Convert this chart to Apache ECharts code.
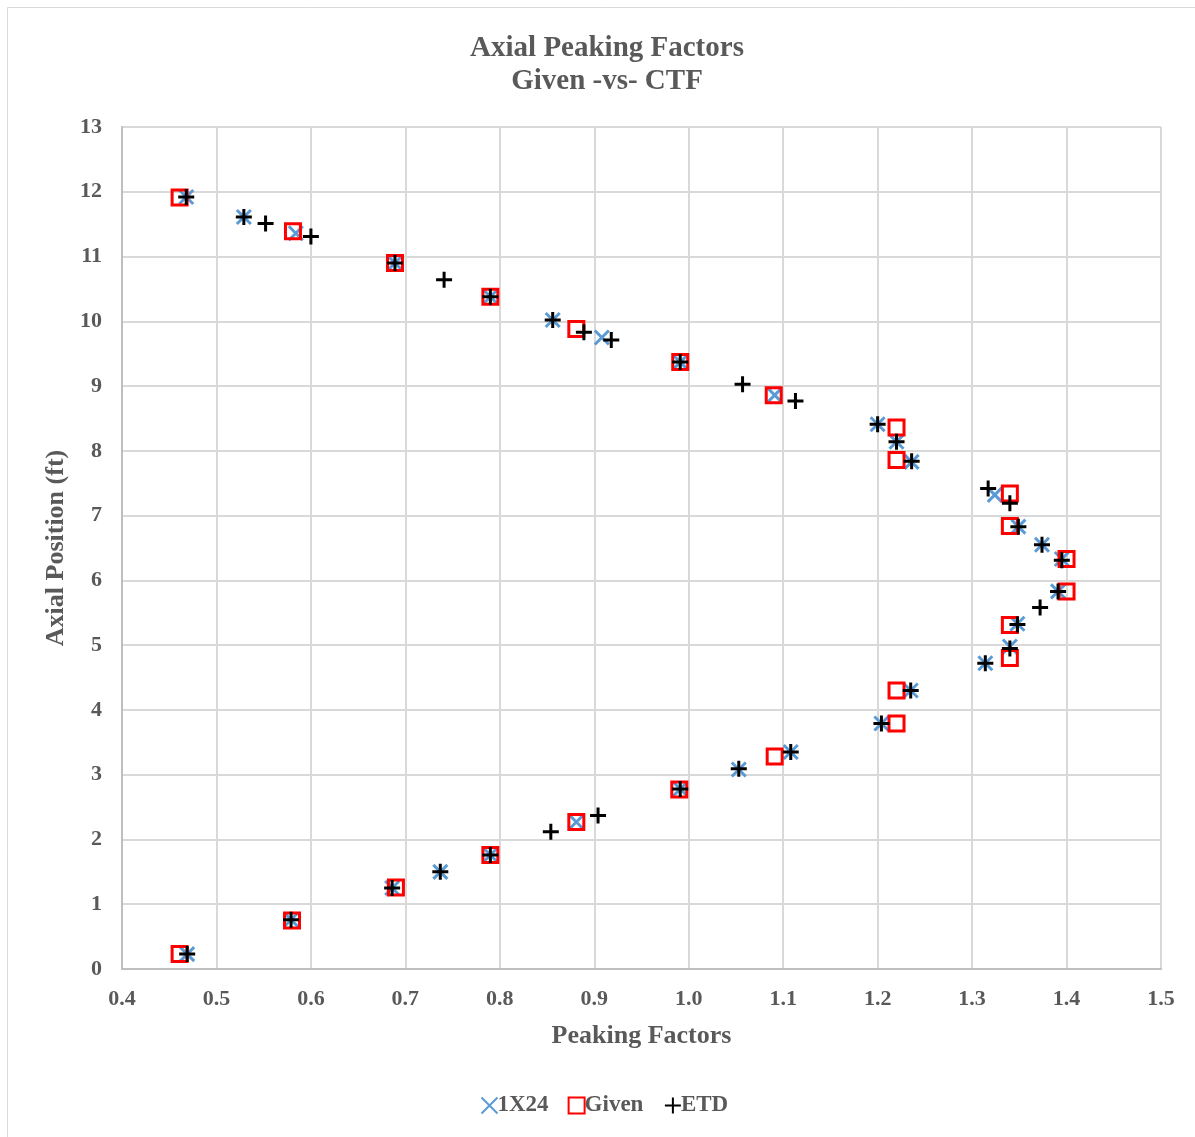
<!DOCTYPE html>
<html>
<head>
<meta charset="utf-8">
<title>Axial Peaking Factors</title>
<script src="https://cdn.jsdelivr.net/npm/echarts@6/dist/echarts.min.js"></script>
<style>
  html, body { margin: 0; padding: 0; background: #ffffff; }
  #chart { width: 1195px; height: 1137px; }
</style>
</head>
<body>
<div id="chart"></div>
<script>
// Peaking factor (x) vs axial position in ft (y) for each data set
const oneX24X = [0.468, 0.529, 0.584, 0.689, 0.790, 0.856, 0.908, 0.991, 1.091, 1.200, 1.220, 1.236,
                 1.324, 1.349, 1.374, 1.395, 1.391, 1.348, 1.340, 1.314, 1.235, 1.204, 1.108, 1.053,
                 0.991, 0.881, 0.790, 0.737, 0.686, 0.579, 0.469];
const oneX24Y = [11.92, 11.61, 11.36, 10.90, 10.38, 10.02, 9.75, 9.37, 8.86, 8.41, 8.14, 7.83,
                 7.32, 6.83, 6.55, 6.33, 5.83, 5.33, 4.98, 4.72, 4.30, 3.79, 3.35, 3.08,
                 2.78, 2.27, 1.76, 1.50, 1.25, 0.76, 0.23];

const givenX = [0.461, 0.581, 0.689, 0.790, 0.881, 0.991, 1.090, 1.220, 1.220, 1.340, 1.340, 1.400,
                1.400, 1.340, 1.340, 1.220, 1.220, 1.091, 0.990, 0.881, 0.790, 0.690, 0.580, 0.461];
const givenY = [11.91, 11.39, 10.90, 10.38, 9.88, 9.37, 8.86, 8.36, 7.86, 7.34, 6.84, 6.33,
                5.83, 5.31, 4.80, 4.30, 3.79, 3.28, 2.77, 2.27, 1.76, 1.26, 0.75, 0.23];

const etdX = [0.468, 0.529, 0.552, 0.600, 0.689, 0.741, 0.790, 0.856, 0.889, 0.918, 0.991, 1.057,
              1.113, 1.200, 1.220, 1.236, 1.317, 1.340, 1.349, 1.374, 1.395, 1.391, 1.372, 1.348,
              1.340, 1.314, 1.235, 1.204, 1.108, 1.053, 0.991, 0.904, 0.854, 0.790, 0.737, 0.686,
              0.579, 0.469];
const etdY = [11.92, 11.61, 11.51, 11.31, 10.90, 10.64, 10.38, 10.02, 9.83, 9.71, 9.37, 9.03,
              8.77, 8.41, 8.14, 7.84, 7.42, 7.19, 6.83, 6.55, 6.31, 5.83, 5.58, 5.32,
              4.95, 4.72, 4.30, 3.79, 3.35, 3.09, 2.78, 2.37, 2.12, 1.76, 1.50, 1.25,
              0.76, 0.23];

const seriesNames = ['1X24', 'Given', 'ETD'];
const titleLines = ['Axial Peaking Factors', 'Given -vs- CTF'];
const xAxisName = 'Peaking Factors';
const yAxisName = 'Axial Position (ft)';

const pairs = (xs, ys) => xs.map((x, i) => [x, ys[i]]);

const SERIF = '"Liberation Serif", "Times New Roman", serif';
const TEXT_GREY = '#595959';
const CROSS = 'path://M0,0L10,10M10,0L0,10';
const PLUS = 'path://M5,0L5,10M0,5L10,5';

const chart = echarts.init(document.getElementById('chart'), null, { renderer: 'canvas' });

chart.setOption({
  backgroundColor: '#ffffff',
  animation: false,
  graphic: [{
    type: 'rect',
    shape: { x: 7.5, y: 7.5, width: 1200, height: 1200 },
    style: { fill: 'none', stroke: '#d9d9d9', lineWidth: 1 },
    silent: true
  }],
  title: {
    text: titleLines.join('\n'),
    left: 602,
    textAlign: 'center',
    top: 27,
    textStyle: {
      fontFamily: SERIF,
      fontWeight: 'bold',
      fontSize: 29,
      color: TEXT_GREY,
      lineHeight: 33
    }
  },
  legend: {
    bottom: 15,
    left: 474,
    itemGap: 19,
    itemWidth: 16,
    itemHeight: 16,
    textStyle: {
      fontFamily: SERIF,
      fontWeight: 'bold',
      fontSize: 23,
      color: TEXT_GREY,
      padding: [0, 0, 0, -5]
    },
    data: seriesNames
  },
  grid: {
    left: 122,
    right: 34,
    top: 127,
    bottom: 168,
    containLabel: false
  },
  xAxis: {
    type: 'value',
    min: 0.4,
    max: 1.5,
    interval: 0.1,
    name: xAxisName,
    nameLocation: 'middle',
    nameGap: 54,
    nameTextStyle: { fontFamily: SERIF, fontWeight: 'bold', fontSize: 26, color: TEXT_GREY },
    axisLine: { show: true, lineStyle: { color: '#bfbfbf', width: 2 } },
    axisTick: { show: false },
    axisLabel: {
      fontFamily: SERIF, fontWeight: 'bold', fontSize: 22, color: TEXT_GREY, margin: 19,
      formatter: v => v.toFixed(1)
    },
    splitLine: { show: true, lineStyle: { color: '#d9d9d9', width: 2 } }
  },
  yAxis: {
    type: 'value',
    min: 0,
    max: 13,
    interval: 1,
    name: yAxisName,
    nameLocation: 'middle',
    nameGap: 51,
    nameRotate: 90,
    nameTextStyle: { fontFamily: SERIF, fontWeight: 'bold', fontSize: 26, color: TEXT_GREY },
    axisLine: { show: true, lineStyle: { color: '#bfbfbf', width: 2 } },
    axisTick: { show: false },
    axisLabel: { fontFamily: SERIF, fontWeight: 'bold', fontSize: 22, color: TEXT_GREY, margin: 20 },
    splitLine: { show: true, lineStyle: { color: '#d9d9d9', width: 2 } }
  },
  series: [
    {
      name: seriesNames[0],
      type: 'scatter',
      data: pairs(oneX24X, oneX24Y),
      symbol: CROSS,
      symbolSize: 14,
      itemStyle: { color: 'none', borderColor: '#5b9bd5', borderWidth: 3, opacity: 1 },
      z: 2
    },
    {
      name: seriesNames[1],
      type: 'scatter',
      data: pairs(givenX, givenY),
      symbol: 'rect',
      symbolSize: 15,
      itemStyle: { color: 'rgba(0,0,0,0)', borderColor: '#ff0000', borderWidth: 3, opacity: 1 },
      z: 3
    },
    {
      name: seriesNames[2],
      type: 'scatter',
      data: pairs(etdX, etdY),
      symbol: PLUS,
      symbolSize: 16,
      itemStyle: { color: 'none', borderColor: '#000000', borderWidth: 3, opacity: 1 },
      z: 4
    }
  ]
});
</script>
</body>
</html>
